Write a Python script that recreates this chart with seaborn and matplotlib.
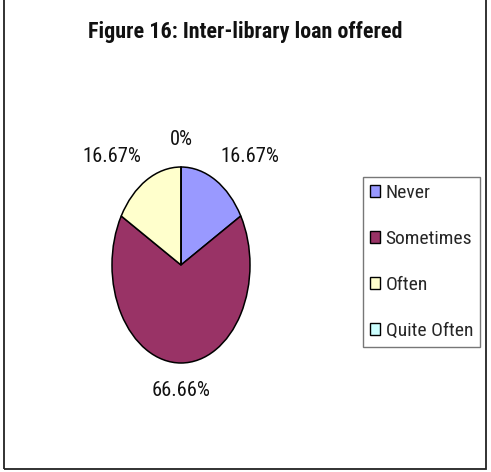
import matplotlib
matplotlib.use("Agg")
import matplotlib.pyplot as plt
from matplotlib.patches import Rectangle
import seaborn as sns

categories = ["Never", "Sometimes", "Often", "Quite Often"]
percentages = [16.67, 66.66, 16.67, 0]
colors = ["#9999FF", "#993366", "#FFFFCC", "#CCFFFF"]
title = "Figure 16: Inter-library loan offered"

sns.set_theme(style="white")
plt.rcParams["font.family"] = ["Roboto Condensed", "DejaVu Sans"]

W, H = 491, 472
fig = plt.figure(figsize=(W / 100, H / 100), dpi=100)
fig.patch.set_facecolor("white")

# outer chart frame (top edge runs off the canvas)
fig.add_artist(Rectangle((3.5 / W, 1 - 469 / H), 482 / W, 480 / H,
                         transform=fig.transFigure, fill=False,
                         edgecolor="#222222", linewidth=1.3))

fig.text(245 / W, 1 - 32 / H, title, ha="center", va="center",
         fontsize=15.8, fontweight="bold", color="#111111")

# pie drawn as an ellipse: the axes box is the bounding box of the pie
cx, cy, rx, ry = 181, 265, 69, 98
ax = fig.add_axes([(cx - rx) / W, 1 - (cy + ry) / H, 2 * rx / W, 2 * ry / H])


def fmt(pct):
    return f"{round(pct, 2):g}%"


wedges, texts, autotexts = ax.pie(
    percentages, colors=colors, startangle=90, counterclock=False,
    autopct=fmt, pctdistance=1.28,
    wedgeprops=dict(edgecolor="black", linewidth=1.1),
    textprops=dict(fontsize=14.8, color="#111111"))
ax.set_aspect("auto")
ax.set_xlim(-1, 1)
ax.set_ylim(-1, 1)
# labels sit outside the slices, pushed sideways clear of the rim
for t in autotexts:
    x, y = t.get_position()
    t.set_position((x * 1.56, y))
    t.set_clip_on(False)

leg = fig.legend(wedges, categories, loc="upper left",
                 bbox_to_anchor=(363 / W, 1 - 177 / H),
                 fontsize=14.0, frameon=True, fancybox=False,
                 handlelength=0.52, handleheight=0.52, handletextpad=0.3,
                 labelspacing=1.44, borderpad=0.35, borderaxespad=0)
frame = leg.get_frame()
frame.set_edgecolor("#555555")
frame.set_linewidth(1.0)
for h in leg.legend_handles:
    h.set_edgecolor("black")
    h.set_linewidth(1.0)

fig.savefig("out.png", dpi=100)
